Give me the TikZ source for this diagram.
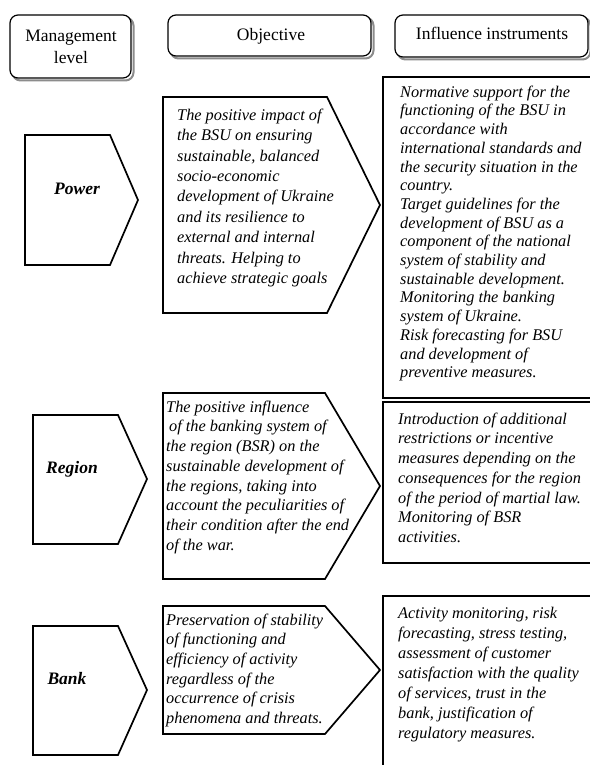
\documentclass[tikz,border=0pt]{standalone}
\usepackage{fontspec}
\setmainfont{Liberation Serif}
\begin{document}
\begin{tikzpicture}[x=1pt,y=-1pt,
  outl/.style={draw=black,line width=1.7pt,line join=miter},
  hdrbox/.style={draw=black,line width=1.2pt,rounded corners=8pt,fill=white},
  hdrshad/.style={draw=black!45,line width=2pt,rounded corners=8pt},
  hdrtxt/.style={font=\fontsize{17.5}{22.5}\selectfont,align=center,inner sep=0pt,anchor=base},
  lvltxt/.style={font=\fontsize{17.5}{21}\selectfont\bfseries\itshape,inner sep=0pt,anchor=base},
  bodytxt/.style={inner sep=0pt,anchor=north west,align=left}
]
\useasboundingbox (0,0) rectangle (589,765);
\fill[white] (0,0) rectangle (589,765);

% ---- header boxes
\draw[hdrshad] (12.5,17.5) rectangle (133.5,80.5);
\draw[hdrbox] (10,15) rectangle (131,78);
\node[hdrtxt,anchor=north] (hlevel) at (71,28) {\rule{0pt}{13pt}Management\\level};

\draw[hdrshad] (170.5,17.5) rectangle (373.5,58.5);
\draw[hdrbox] (168,15) rectangle (371,56);
\node[hdrtxt] (hobj) at (271,41) {Objective};

\draw[hdrshad] (397.5,17.5) rectangle (590.5,59.5);
\draw[hdrbox] (395,15) rectangle (588,57);
\node[hdrtxt] (hinst) at (492,40) {Influence instruments};

% ---- row 1: Power
\draw[outl] (25,135) -- (110,135) -- (138,200) -- (110,265) -- (25,265) -- cycle;
\node[lvltxt] (power) at (77,194) {Power};

\draw[outl] (163,97) -- (327,97) -- (380,205) -- (327,313) -- (163,313) -- cycle;
\node[bodytxt,font=\fontsize{16.3}{20.4}\selectfont\itshape] (obj1) at (177,108)
 {\rule{0pt}{12pt}The positive impact of\\
  the BSU on ensuring\\
  sustainable, balanced\\
  socio-economic\\
  development of Ukraine\\
  and its resilience to\\
  external and internal\\
  threats. Helping to\\
  achieve strategic goals};

\draw[outl] (383,77) -- (593,77) -- (593,398) -- (383,398) -- cycle;
\node[bodytxt,font=\fontsize{16.3}{18.7}\selectfont\itshape] (inst1) at (400,85)
 {\rule{0pt}{12pt}Normative support for the\\
  functioning of the BSU in\\
  accordance with\\
  international standards and\\
  the security situation in the\\
  country.\\
  Target guidelines for the\\
  development of BSU as a\\
  component of the national\\
  system of stability and\\
  sustainable development.\\
  Monitoring the banking\\
  system of Ukraine.\\
  Risk forecasting for BSU\\
  and development of\\
  preventive measures.};

% ---- row 2: Region
\draw[outl] (33,415) -- (118,415) -- (147,479) -- (118,544) -- (33,544) -- cycle;
\node[lvltxt] (region) at (72,473) {Region};

\draw[outl] (163,393) -- (325,393) -- (380,486) -- (325,579) -- (163,579) -- cycle;
\node[bodytxt,font=\fontsize{16.3}{19.7}\selectfont\itshape] (obj2) at (166,400)
 {\rule{0pt}{12pt}The positive influence\\
  \hspace*{3pt}of the banking system of\\
  the region (BSR) on the\\
  sustainable development of\\
  the regions, taking into\\
  account the peculiarities of\\
  their condition after the end\\
  of the war.};

\draw[outl] (383,402) -- (593,402) -- (593,563) -- (383,563) -- cycle;
\node[bodytxt,font=\fontsize{16.3}{19.7}\selectfont\itshape] (inst2) at (398,412)
 {\rule{0pt}{12pt}Introduction of additional\\
  restrictions or incentive\\
  measures depending on the\\
  consequences for the region\\
  of the period of martial law.\\
  Monitoring of BSR\\
  activities.};

% ---- row 3: Bank
\draw[outl] (33,626) -- (118,626) -- (147,690) -- (118,755) -- (33,755) -- cycle;
\node[lvltxt] (bank) at (67,684) {Bank};

\draw[outl] (163,606) -- (325,606) -- (380,670) -- (325,734) -- (163,734) -- cycle;
\node[bodytxt,font=\fontsize{16.3}{19.6}\selectfont\itshape] (obj3) at (166,613)
 {\rule{0pt}{12pt}Preservation of stability\\
  of functioning and\\
  efficiency of activity\\
  regardless of the\\
  occurrence of crisis\\
  phenomena and threats.};

\draw[outl] (383,772) -- (383,596) -- (593,596);
\node[bodytxt,font=\fontsize{16.3}{20}\selectfont\itshape] (inst3) at (398,606)
 {\rule{0pt}{12pt}Activity monitoring, risk\\
  forecasting, stress testing,\\
  assessment of customer\\
  satisfaction with the quality\\
  of services, trust in the\\
  bank, justification of\\
  regulatory measures.};
\end{tikzpicture}
\end{document}
